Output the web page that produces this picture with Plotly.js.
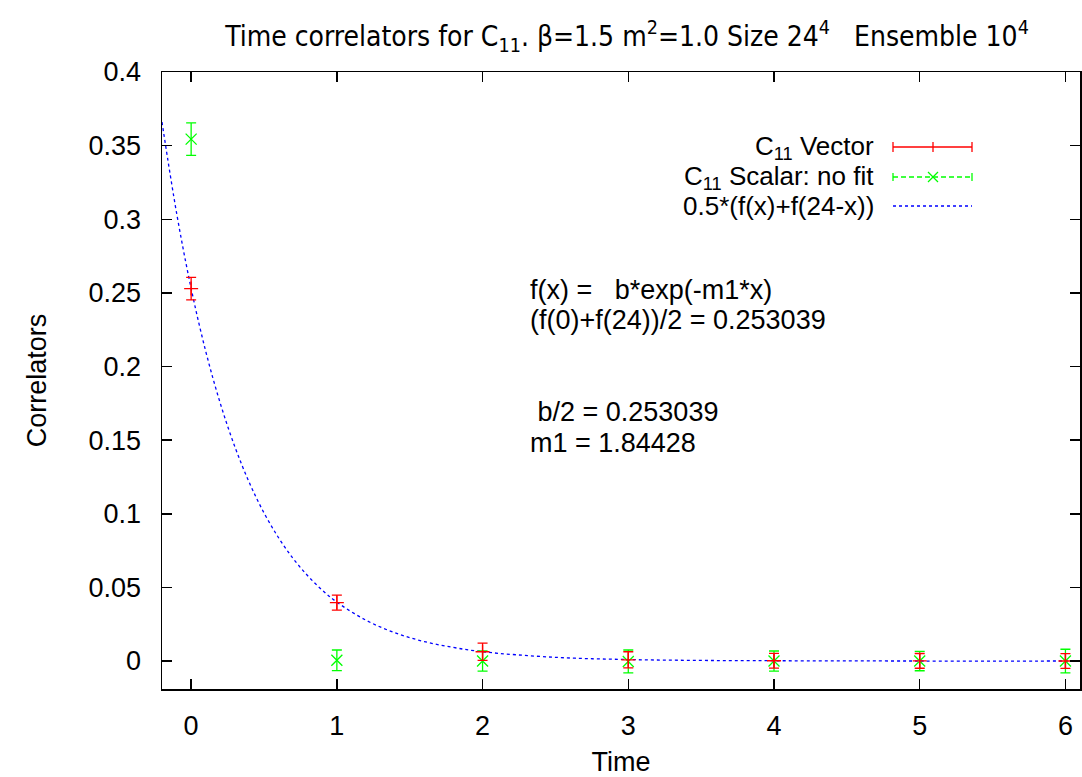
<!DOCTYPE html>
<html>
<head>
<meta charset="utf-8">
<script src="https://cdn.plot.ly/plotly-3.0.1.min.js"></script>
<style>html,body{margin:0;padding:0;background:#fff;}#chart{width:1082px;height:777px;}</style>
</head>
<body>
<div id="chart"></div>
<script>
// ---- data ----
var times = [0, 1, 2, 3, 4, 5, 6];
var vectorValues = [0.2529, 0.0397, 0.0063, 0.0008, 0.0002, 0.0001, 0.0000];
var vectorErrors = [0.0076, 0.0051, 0.0058, 0.0055, 0.0050, 0.0050, 0.0050];
var scalarValues = [0.3544, 0.0005, 0.0000, -0.0003, 0.0000, 0.0000, 0.0000];
var scalarErrors = [0.0110, 0.0070, 0.0068, 0.0078, 0.0068, 0.0066, 0.0080];
var fitX = [-0.2, -0.1, 0, 0.1, 0.2, 0.3, 0.4, 0.5, 0.6, 0.7, 0.8, 0.9, 1.0, 1.2, 1.4, 1.6, 1.8, 2.0, 2.5, 3.0, 3.5, 4.0, 5.0, 6.0, 6.1];
var fitY = [0.366, 0.3043, 0.2530, 0.2104, 0.1750, 0.1455, 0.1210, 0.1006, 0.0837, 0.0696, 0.0579, 0.0481, 0.0400, 0.0277, 0.0191, 0.0132, 0.0092, 0.0063, 0.0025, 0.0010, 0.0004, 0.0002, 0.0000, 0.0000, 0.0000];
var yTickVals = [0, 0.05, 0.1, 0.15, 0.2, 0.25, 0.3, 0.35, 0.4];
var yTickText = ["0", "0.05", "0.1", "0.15", "0.2", "0.25", "0.3", "0.35", "0.4"];
var xTickVals = [0, 1, 2, 3, 4, 5, 6];
var legendLabels = ["C<sub>11</sub> Vector", "C<sub>11</sub> Scalar: no fit", "0.5*(f(x)+f(24-x))"];
var infoLines = ["f(x) = &nbsp;&nbsp;b*exp(-m1*x)", "(f(0)+f(24))/2 = 0.253039", "&nbsp;b/2 = 0.253039", "m1 = 1.84428"];
var titleText = "Time correlators for C<sub>11</sub>. β=1.5 m<sup>2</sup>=1.0 Size 24<sup>4</sup> &nbsp;&nbsp;Ensemble 10<sup>4</sup>";

// ---- layout geometry (pixels) ----
var W = 1082, H = 777;
var L = 162, R = 1080, T = 72, B = 689;
function px(x) { return (x - L) / (R - L); }
function py(y) { return (B - y) / (B - T); }

var FONT = "Liberation Sans, Arial, Helvetica, sans-serif";
var FS = 27;
var RED = "#ff0000", GREEN = "#00ff00", BLUE = "#0000ff";

var traces = [
  {
    x: fitX, y: fitY, mode: "lines", type: "scatter",
    line: {color: BLUE, width: 1.3, dash: "3px,3px", shape: "spline"},
    hoverinfo: "skip", showlegend: false, cliponaxis: true
  },
  {
    x: times, y: scalarValues, mode: "markers", type: "scatter",
    marker: {symbol: "x-thin-open", size: 11, color: GREEN, line: {color: GREEN, width: 1.3}},
    error_y: {type: "data", array: scalarErrors, visible: true, color: GREEN, thickness: 1.3, width: 5},
    showlegend: false, cliponaxis: false
  },
  {
    x: times, y: vectorValues, mode: "markers", type: "scatter",
    marker: {symbol: "cross-thin-open", size: 10, color: RED, line: {color: RED, width: 1.3}},
    error_y: {type: "data", array: vectorErrors, visible: true, color: RED, thickness: 1.3, width: 5},
    showlegend: false, cliponaxis: false
  }
];

var shapes = [];
var annotations = [];
// legend rows
var rowY = [147, 177, 206];
var sx0 = 893, sx1 = 972, sxm = 933;
// vector sample
shapes.push({type: "line", xref: "paper", yref: "paper", x0: px(sx0), x1: px(sx1), y0: py(rowY[0]), y1: py(rowY[0]), line: {color: RED, width: 1.3}});
[sx0, sx1, sxm].forEach(function (xx) {
  shapes.push({type: "line", xref: "paper", yref: "paper", x0: px(xx), x1: px(xx), y0: py(rowY[0] - 5), y1: py(rowY[0] + 5), line: {color: RED, width: 1.3}});
});
// scalar sample
shapes.push({type: "line", xref: "paper", yref: "paper", x0: px(sx0), x1: px(sx1), y0: py(rowY[1]), y1: py(rowY[1]), line: {color: GREEN, width: 1.3, dash: "5px,3px"}});
[sx0, sx1].forEach(function (xx) {
  shapes.push({type: "line", xref: "paper", yref: "paper", x0: px(xx), x1: px(xx), y0: py(rowY[1] - 4), y1: py(rowY[1] + 4), line: {color: GREEN, width: 1.3}});
});
shapes.push({type: "line", xref: "paper", yref: "paper", x0: px(sxm - 5), x1: px(sxm + 5), y0: py(rowY[1] - 5), y1: py(rowY[1] + 5), line: {color: GREEN, width: 1.3}});
shapes.push({type: "line", xref: "paper", yref: "paper", x0: px(sxm - 5), x1: px(sxm + 5), y0: py(rowY[1] + 5), y1: py(rowY[1] - 5), line: {color: GREEN, width: 1.3}});
// fit sample
shapes.push({type: "line", xref: "paper", yref: "paper", x0: px(sx0), x1: px(sx1), y0: py(rowY[2]), y1: py(rowY[2]), line: {color: BLUE, width: 1.3, dash: "3px,3px"}});

legendLabels.forEach(function (t, i) {
  annotations.push({text: t, xref: "paper", yref: "paper", x: px(876), y: py(rowY[i]), xanchor: "right", yanchor: "middle", showarrow: false, font: {family: FONT, size: 26, color: "#000"}});
});
var infoY = [290, 320, 412, 443];
infoLines.forEach(function (t, i) {
  annotations.push({text: t, xref: "paper", yref: "paper", x: px(528), y: py(infoY[i]), xanchor: "left", yanchor: "middle", showarrow: false, font: {family: FONT, size: FS, color: "#000"}});
});

var axisCommon = {
  showline: true, mirror: "ticks", linecolor: "#000", linewidth: 1.5,
  ticks: "inside", ticklen: 10, tickwidth: 1.5, tickcolor: "#000",
  showgrid: false, zeroline: false,
  tickfont: {family: FONT, size: FS, color: "#000"}
};

var layout = {
  width: W, height: H,
  margin: {l: L, r: W - R, t: T, b: H - B, pad: 0},
  paper_bgcolor: "#fff", plot_bgcolor: "#fff",
  showlegend: false,
  title: {text: titleText, x: 627 / W, xanchor: "center", y: 1 - 36 / H, yanchor: "middle",
          font: {family: "Liberation Sans Narrow, DejaVu Sans Condensed, Arial, sans-serif", size: 28, color: "#000"}},
  xaxis: Object.assign({}, axisCommon, {
    range: [-0.2, 6.1], tickvals: xTickVals, ticklabelstandoff: 12,
    title: {text: "Time", font: {family: FONT, size: FS, color: "#000"}, standoff: 16}
  }),
  yaxis: Object.assign({}, axisCommon, {
    range: [-0.019, 0.4], tickvals: yTickVals, ticktext: yTickText, ticklabelstandoff: 14,
    title: {text: "Correlators", font: {family: FONT, size: FS, color: "#000"}, standoff: 34}
  }),
  shapes: shapes,
  annotations: annotations
};

Plotly.newPlot("chart", traces, layout, {staticPlot: true, displayModeBar: false});
</script>
</body>
</html>
